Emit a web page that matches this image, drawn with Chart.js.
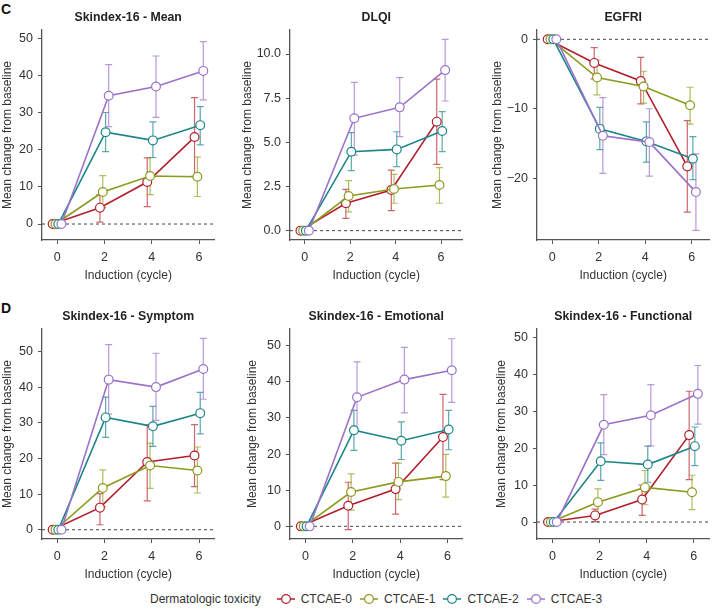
<!DOCTYPE html>
<html>
<head>
<meta charset="utf-8">
<script src="https://cdn.jsdelivr.net/npm/chart.js@4"></script>
<style>
  body { margin: 0; background: #fff; }
  #wrap { position: relative; width: 715px; height: 608px; overflow: hidden; font-family: "Liberation Sans", Arial, sans-serif; }
  canvas { position: absolute; }
  .tag { position: absolute; font-weight: bold; font-size: 14px; line-height: 14px; color: #111; }
  #legend { position: absolute; left: 150px; top: 591px; display: flex; align-items: center; font-size: 12px; color: #333; height: 16px; }
  #legend .item { display: flex; align-items: center; margin-left: 8px; }
  #legend svg { margin-right: 6px; }
</style>
</head>
<body>
<div id="wrap">
  <div class="tag" style="left:1px;top:2px">C</div>
  <div class="tag" style="left:1px;top:301px">D</div>
  <canvas id="p1"></canvas>
  <canvas id="p2"></canvas>
  <canvas id="p3"></canvas>
  <canvas id="p4"></canvas>
  <canvas id="p5"></canvas>
  <canvas id="p6"></canvas>
  <div id="legend"><span style="margin-right:8px">Dermatologic toxicity</span></div>
</div>
<script>
// cycles and groups
const cycles = [0, 2, 4, 6];
const groups = ["CTCAE-0", "CTCAE-1", "CTCAE-2", "CTCAE-3"];
const colors = ["#b21f2d", "#8c9a1e", "#1d8588", "#9a73c9"];
const barColors = ["rgba(190,50,60,0.75)", "rgba(150,165,40,0.75)", "rgba(35,140,145,0.75)", "rgba(160,120,205,0.75)"];
const dodge = [-0.19, -0.07, 0.05, 0.18]; // horizontal offset of each group

// Skindex-16 - Mean (one row per group, columns follow cycles)
const meanMean = [[0, 4.4, 11.3, 23.4], [0, 8.6, 12.9, 12.7], [0, 24.7, 22.5, 26.6], [0, 34.5, 37.0, 41.2]];
const meanLow  = [[null, 0.5, 4.7, 12.8], [null, 4.4, 7.9, 7.4], [null, 19.5, 17.9, 21.3], [null, 26.2, 28.7, 33.4]];
const meanHigh = [[null, 7.9, 17.8, 34.0], [null, 13.0, 17.9, 18.0], [null, 30.0, 27.5, 31.6], [null, 42.9, 45.2, 49.1]];

// DLQI
const dlqiMean = [[0, 1.55, 2.30, 6.17], [0, 1.96, 2.36, 2.58], [0, 4.47, 4.60, 5.64], [0, 6.36, 6.98, 9.09]];
const dlqiLow  = [[null, 0.70, 1.13, 3.75], [null, 1.06, 1.55, 1.55], [null, 3.40, 3.62, 4.47], [null, 4.28, 5.32, 7.34]];
const dlqiHigh = [[null, 2.34, 3.43, 8.58], [null, 2.83, 3.19, 3.57], [null, 5.55, 5.60, 6.74], [null, 8.40, 8.66, 10.83]];

// EGFRI
const egfrMean = [[0, -3.4, -6.0, -18.3], [0, -5.5, -6.8, -9.5], [0, -12.9, -14.7, -17.2], [0, -13.9, -14.8, -22.0]];
const egfrLow  = [[null, -5.7, -9.3, -24.9], [null, -8.0, -9.2, -12.2], [null, -15.9, -17.7, -20.2], [null, -19.3, -19.7, -27.5]];
const egfrHigh = [[null, -1.2, -2.6, -11.7], [null, -3.0, -4.6, -6.9], [null, -9.8, -11.9, -14.0], [null, -8.4, -10.0, -16.5]];

// Skindex-16 - Symptom
const sympMean = [[0, 6.2, 19.0, 20.8], [0, 11.7, 18.0, 16.6], [0, 31.5, 29.0, 32.7], [0, 42.1, 40.0, 45.1]];
const sympLow  = [[null, 1.4, 8.1, 12.1], [null, 6.5, 11.6, 10.3], [null, 25.9, 23.4, 26.9], [null, 32.4, 30.7, 36.6]];
const sympHigh = [[null, 10.1, 29.4, 29.5], [null, 16.8, 24.3, 23.2], [null, 37.2, 34.6, 38.5], [null, 51.9, 49.5, 53.7]];

// Skindex-16 - Emotional
const emotMean = [[0, 5.7, 10.3, 24.7], [0, 9.5, 12.3, 13.9], [0, 26.6, 23.7, 26.8], [0, 35.7, 40.6, 43.2]];
const emotLow  = [[null, -0.9, 3.4, 12.9], [null, 4.5, 7.4, 8.1], [null, 21.0, 18.5, 21.2], [null, 26.3, 31.4, 34.3]];
const emotHigh = [[null, 12.2, 17.5, 36.5], [null, 14.5, 17.5, 19.9], [null, 32.1, 28.9, 32.1], [null, 45.5, 49.5, 51.9]];

// Skindex-16 - Functional
const funcMean = [[0, 1.8, 6.1, 23.6], [0, 5.4, 9.4, 8.1], [0, 16.5, 15.6, 20.6], [0, 26.4, 29.0, 34.8]];
const funcLow  = [[null, 0.1, 1.8, 11.5], [null, 2.0, 4.7, 3.4], [null, 11.3, 10.8, 15.3], [null, 18.3, 20.7, 26.6]];
const funcHigh = [[null, 3.5, 10.0, 35.5], [null, 9.0, 14.0, 12.7], [null, 21.5, 20.6, 25.8], [null, 34.6, 37.3, 42.5]];

const tens = [0, 10, 20, 30, 40, 50];
const dlqiTicks = [0, 2.5, 5, 7.5, 10];
const egfrTicks = [0, -10, -20];

const plain = (v) => String(v);
const oneDec = (v) => v.toFixed(1);
const minus = (v) => (v < 0 ? "\u2212" + Math.abs(v) : String(v));

const panels = [
  { id: "p1", title: "Skindex-16 - Mean", mean: meanMean, low: meanLow, high: meanHigh, yTicks: tens, fmt: plain, yMin: -4.3, yMax: 52.2, xMin: -0.64, xMax: 6.65 },
  { id: "p2", title: "DLQI", mean: dlqiMean, low: dlqiLow, high: dlqiHigh, yTicks: dlqiTicks, fmt: oneDec, yMin: -0.53, yMax: 11.36, xMin: -0.65, xMax: 6.94 },
  { id: "p3", title: "EGFRI", mean: egfrMean, low: egfrLow, high: egfrHigh, yTicks: egfrTicks, fmt: minus, yMin: -28.9, yMax: 1.34, xMin: -0.65, xMax: 6.76 },
  { id: "p4", title: "Skindex-16 - Symptom", mean: sympMean, low: sympLow, high: sympHigh, yTicks: tens, fmt: plain, yMin: -2.6, yMax: 56.3, xMin: -0.64, xMax: 6.65 },
  { id: "p5", title: "Skindex-16 - Emotional", mean: emotMean, low: emotLow, high: emotHigh, yTicks: tens, fmt: plain, yMin: -3.5, yMax: 54.6, xMin: -0.65, xMax: 6.63 },
  { id: "p6", title: "Skindex-16 - Functional", mean: funcMean, low: funcLow, high: funcHigh, yTicks: tens, fmt: plain, yMin: -4.6, yMax: 52.4, xMin: -0.66, xMax: 6.67 },
];

// plot area boxes on the page (left, top, right, bottom) and y axis width
const boxes = [
  { l: 42, t: 30, r: 220, b: 240, yw: 42 },
  { l: 290, t: 30, r: 468, b: 240, yw: 50 },
  { l: 537, t: 30, r: 715, b: 240, yw: 47 },
  { l: 42, t: 329, r: 220, b: 539, yw: 42 },
  { l: 290, t: 329, r: 468, b: 539, yw: 45 },
  { l: 537, t: 329, r: 715, b: 539, yw: 43 },
];

const FONT = "'Liberation Sans', Arial, sans-serif";
const AXIS = "#555";
const TITLE_H = 20; // title line + padding
const XAXIS_H = 45;

// Draws the error bars behind the lines
const errorBars = {
  id: "errorBars",
  beforeDatasetsDraw(chart) {
    const { ctx, scales: { x, y } } = chart;
    chart.data.datasets.forEach((ds) => {
      if (!ds.errLow) return;
      ctx.save();
      ctx.strokeStyle = ds.errColor;
      ctx.lineWidth = 1.2;
      ds.data.forEach((pt, j) => {
        const lo = ds.errLow[j], hi = ds.errHigh[j];
        if (lo == null || hi == null) return;
        const px = x.getPixelForValue(pt.x);
        const yl = y.getPixelForValue(lo);
        const yh = y.getPixelForValue(hi);
        ctx.beginPath();
        ctx.moveTo(px, yl); ctx.lineTo(px, yh);
        ctx.moveTo(px - 3.5, yl); ctx.lineTo(px + 3.5, yl);
        ctx.moveTo(px - 3.5, yh); ctx.lineTo(px + 3.5, yh);
        ctx.stroke();
      });
      ctx.restore();
    });
  },
};

function makePanel(p, box) {
  const canvas = document.getElementById(p.id);
  const left = box.l - box.yw;
  const top = box.t - TITLE_H;
  const w = box.r - left;
  const h = box.b + XAXIS_H - top;
  canvas.width = w; canvas.height = h;
  canvas.style.left = left + "px"; canvas.style.top = top + "px";
  canvas.style.width = w + "px"; canvas.style.height = h + "px";

  const datasets = [
    {
      // dashed zero reference line
      data: [{ x: p.xMin, y: 0 }, { x: p.xMax, y: 0 }],
      borderColor: "#444", borderWidth: 1, borderDash: [3, 3],
      pointRadius: 0, order: 10,
    },
  ];
  groups.forEach((g, i) => {
    datasets.push({
      label: g,
      data: cycles.map((c, j) => ({ x: c + dodge[i], y: p.mean[i][j] })),
      errLow: p.low[i], errHigh: p.high[i], errColor: barColors[i],
      borderColor: colors[i], borderWidth: 1.6,
      pointRadius: 4.4, pointBorderWidth: 1.2,
      pointBackgroundColor: "#fff", pointBorderColor: colors[i],
      order: 4 - i, clip: false,
    });
  });

  new Chart(canvas, {
    type: "line",
    data: { datasets },
    plugins: [errorBars],
    options: {
      responsive: false,
      animation: false,
      layout: { padding: 0 },
      plugins: {
        legend: { display: false },
        tooltip: { enabled: false },
        title: {
          display: true, text: p.title, color: "#222", fullSize: false,
          font: { family: FONT, size: 12.3, weight: "bold", lineHeight: 1.22 },
          padding: { top: 0, bottom: 5 },
        },
      },
      scales: {
        x: {
          type: "linear", min: p.xMin, max: p.xMax,
          afterBuildTicks: (s) => { s.ticks = cycles.map((v) => ({ value: v })); },
          afterFit: (s) => { s.height = XAXIS_H; },
          grid: { drawOnChartArea: false, drawTicks: true, tickLength: 4, color: AXIS, lineWidth: 1 },
          border: { display: true, color: AXIS, width: 1.3 },
          ticks: { color: "#333", font: { family: FONT, size: 12.5 }, padding: 6, maxRotation: 0 },
          title: { display: true, text: "Induction (cycle)", color: "#333", font: { family: FONT, size: 12 }, padding: { top: 0, bottom: 2 } },
        },
        y: {
          type: "linear", min: p.yMin, max: p.yMax,
          afterBuildTicks: (s) => { s.ticks = p.yTicks.map((v) => ({ value: v })); },
          afterFit: (s) => { s.width = box.yw; },
          grid: { drawOnChartArea: false, drawTicks: true, tickLength: 4, color: AXIS, lineWidth: 1 },
          border: { display: true, color: AXIS, width: 1.3 },
          ticks: { color: "#333", font: { family: FONT, size: 12.5 }, padding: 5, callback: (v) => p.fmt(v) },
          title: { display: true, text: "Mean change from baseline", color: "#333", font: { family: FONT, size: 12 }, padding: { top: 0, bottom: 0 } },
        },
      },
    },
  });
}

panels.forEach((p, i) => makePanel(p, boxes[i]));

// Legend below the panels
const legend = document.getElementById("legend");
groups.forEach((g, i) => {
  const item = document.createElement("span");
  item.className = "item";
  item.innerHTML =
    '<svg width="18" height="12"><line x1="0" y1="6" x2="18" y2="6" stroke="' + colors[i] + '" stroke-width="1.5"/>' +
    '<circle cx="9" cy="6" r="4.4" fill="#fff" stroke="' + colors[i] + '" stroke-width="1.2"/></svg>' +
    "<span>" + g + "</span>";
  legend.appendChild(item);
});
</script>
</body>
</html>
